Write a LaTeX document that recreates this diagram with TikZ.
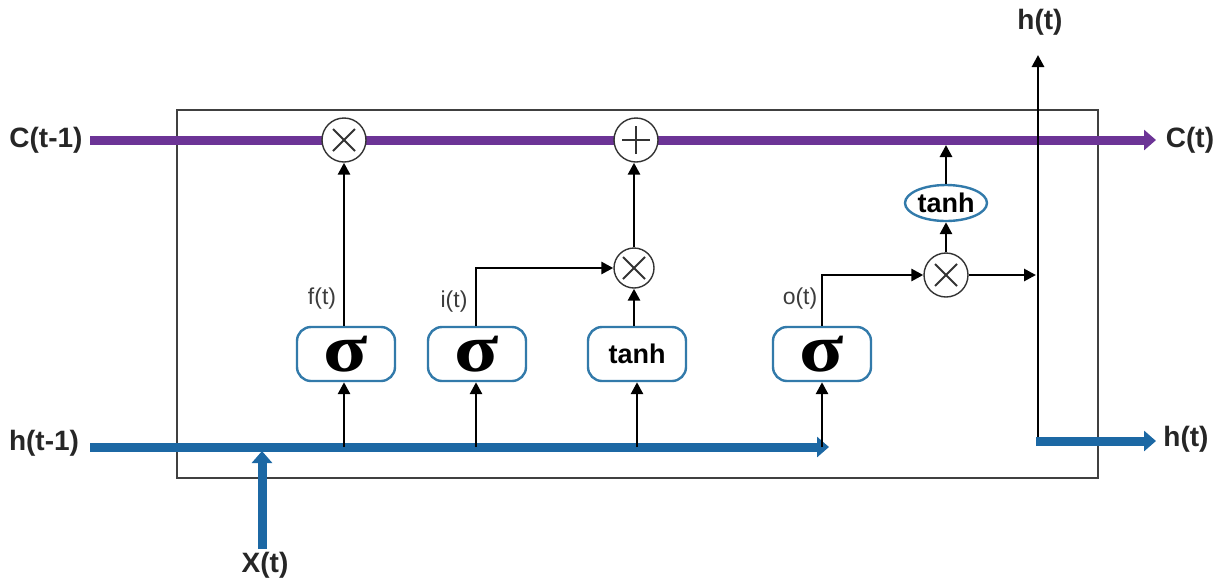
\documentclass[tikz,border=0pt]{standalone}
\usepackage{fontspec}
\setmainfont{Liberation Sans}
\newfontfamily\sigfont[FakeStretch=1.2]{Liberation Serif}
\usetikzlibrary{arrows.meta,shapes.geometric}
\definecolor{cpurple}{RGB}{108,52,150}
\definecolor{hblue}{RGB}{28,104,164}
\definecolor{boxblue}{RGB}{50,122,170}
\definecolor{lblgray}{RGB}{60,60,60}
\begin{document}
\begin{tikzpicture}[x=0.5pt,y=-0.5pt,
  arr/.style={line width=1.4pt, -{Triangle[length=6pt,width=6pt]}},
  thickc/.style={line width=4.5pt, draw=cpurple, -{Triangle[length=6pt,width=10pt]}},
  thickh/.style={line width=4.5pt, draw=hblue, -{Triangle[length=6pt,width=10pt]}},
  gatebox/.style={draw=boxblue, line width=1.2pt, rounded corners=7pt, fill=white,
    minimum width=49pt, minimum height=27pt, inner sep=0pt},
  sig/.style={gatebox, font=\sigfont\bfseries\fontsize{34}{34}\selectfont},
  tbox/.style={gatebox, font=\bfseries\fontsize{13.5}{15}\selectfont},
  lbl/.style={font=\bfseries\fontsize{14}{16}\selectfont, text=black!85},
  glbl/.style={font=\fontsize{11.5}{13}\selectfont, text=lblgray},
  opcirc/.style={circle, draw=black!80, line width=0.7pt, fill=white, inner sep=0pt},
  mult/.style={opcirc, path picture={
      \draw[line width=1pt] ([shift={(-5.5pt,-5.5pt)}]path picture bounding box.center) -- ([shift={(5.5pt,5.5pt)}]path picture bounding box.center);
      \draw[line width=1pt] ([shift={(-5.5pt,5.5pt)}]path picture bounding box.center) -- ([shift={(5.5pt,-5.5pt)}]path picture bounding box.center);}},
  plus/.style={opcirc, path picture={
      \draw[line width=1pt] ([shift={(-7pt,0pt)}]path picture bounding box.center) -- ([shift={(7pt,0pt)}]path picture bounding box.center);
      \draw[line width=1pt] ([shift={(0pt,-7pt)}]path picture bounding box.center) -- ([shift={(0pt,7pt)}]path picture bounding box.center);}}
]
\path[use as bounding box] (0,0) rectangle (1216,579);

% cell boundary
\draw[line width=0.7pt, draw=black!75] (177,110) rectangle (1098,478);

% cell state line
\coordinate (cstart) at (90,140);
\coordinate (cend) at (1156,140);
\draw[thickc] (cstart) -- (cend);
\node[lbl] (lc0) at (46,140) {C(t-1)};
\node[lbl] (lc1) at (1190,140) {C(t)};

% hidden state line
\coordinate (hstart) at (90,447);
\coordinate (hend) at (829,447);
\draw[thickh] (hstart) -- (hend);
\node[lbl] (lh0) at (44,443) {h(t-1)};

% input
\coordinate (xstart) at (262,549);
\coordinate (xend) at (262,451);
\draw[thickh] (xstart) -- (xend);
\node[lbl] (lx) at (265,565) {X(t)};

% operators
\node[mult, minimum size=22pt] (m1) at (344,140) {};
\node[plus, minimum size=22pt] (p1) at (636,140) {};
\node[mult, minimum size=20pt] (m2) at (634,268) {};
\node[mult, minimum size=22pt] (m3) at (946,275) {};

% gates
\node[sig] (sf) at (346,354) {σ};
\node[sig] (si) at (477,354) {σ};
\node[tbox] (tg) at (637,354) {tanh};
\node[sig] (so) at (822,354) {σ};
\node[ellipse, draw=boxblue, line width=1.2pt, fill=white, minimum width=41pt, minimum height=18pt, inner sep=0pt,
  font=\bfseries\fontsize{13.5}{15}\selectfont] (tc) at (946,203) {tanh};

\node[glbl] (lf) at (322,299) {f(t)};
\node[glbl] (li) at (454,302) {i(t)};
\node[glbl] (lo) at (800,299) {o(t)};

% taps from hidden line
\coordinate (hf) at (344,447);
\coordinate (hi) at (476,447);
\coordinate (ht) at (637,447);
\coordinate (ho) at (822,447);
\draw[arr] (hf) -- (hf |- sf.south);
\draw[arr] (hi) -- (hi |- si.south);
\draw[arr] (ht) -- (tg.south);
\draw[arr] (ho) -- (so.south);

% gate outputs
\draw[arr] (sf.north -| m1.south) -- (m1.south);
\draw[arr] (si.north -| hi) |- (m2.west);
\draw[arr] (tg.north -| m2.south) -- (m2.south);
\draw[arr] (m2.north) -- (p1.south -| m2.north);
\draw[arr] (so.north) |- (m3.west);
\draw[arr] (m3.north) -- (tc.south);
\coordinate (ctap) at (946,145);
\draw[arr] (tc.north) -- (ctap);

% output hidden state
\coordinate (hj) at (1036,275);
\draw[arr] (m3.east) -- (hj);
\coordinate (vbot) at (1038,445);
\coordinate (vtop) at (1038,55);
\draw[arr] (vbot) -- (vtop);
\node[lbl] (lht) at (1040,22) {h(t)};
\coordinate (hostart) at (1036,441);
\coordinate (hoend) at (1156,441);
\draw[thickh] (hostart) -- (hoend);
\node[lbl] (lh1) at (1186,439) {h(t)};
\end{tikzpicture}
\end{document}
